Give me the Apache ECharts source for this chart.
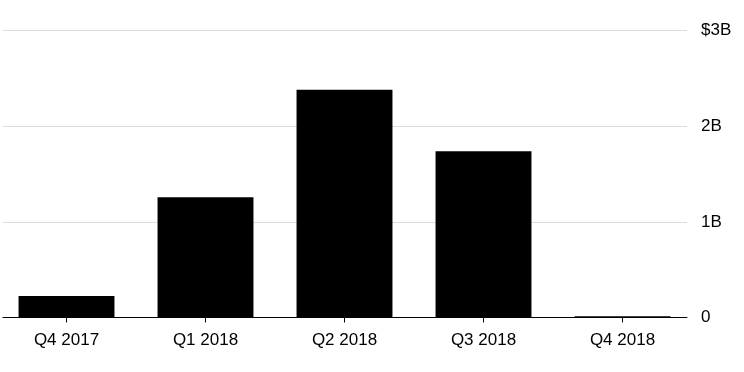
<!DOCTYPE html>
<html>
<head>
<meta charset="utf-8">
<script src="https://cdn.jsdelivr.net/npm/echarts@6/dist/echarts.min.js"></script>
<style>
html,body{margin:0;padding:0;background:#fff;}
#chart{width:744px;height:372px;}
</style>
</head>
<body>
<div id="chart"></div>
<script>
var categories = ['Q4 2017', 'Q1 2018', 'Q2 2018', 'Q3 2018', 'Q4 2018'];
var values = [0.225, 1.257, 2.383, 1.739, 0.012];
var yTickLabels = ['0', '1B', '2B', '$3B'];

var FONT = 'Liberation Sans';
var chart = echarts.init(document.getElementById('chart'));
chart.setOption({
  animation: false,
  backgroundColor: '#fff',
  grid: [
    {left: 3, right: 57, top: 30.7, bottom: 54.5, containLabel: false, outerBoundsMode: 'none'},
    {left: -3, right: 52, top: 30.7, bottom: 54.5, containLabel: false, outerBoundsMode: 'none'}
  ],
  xAxis: [
    {gridIndex: 0, type: 'value', min: 0, max: 1, show: true,
     axisLine: {show: true, onZero: false, lineStyle: {color: '#000', width: 1}},
     axisTick: {show: false}, axisLabel: {show: false}, splitLine: {show: false}},
    {gridIndex: 1, type: 'category', data: categories,
     axisLine: {show: false},
     axisTick: {show: true, alignWithLabel: true, length: 5, lineStyle: {color: '#000'}},
     axisLabel: {color: '#000', fontFamily: FONT, fontSize: 17, margin: 14}}
  ],
  yAxis: [
    {gridIndex: 0, type: 'value', position: 'right', min: 0, max: 3, interval: 1,
     axisLine: {show: false}, axisTick: {show: false},
     axisLabel: {color: '#000', fontFamily: FONT, fontSize: 17, margin: 14,
       formatter: function (v) { return yTickLabels[Math.round(v)]; }},
     splitLine: {show: true, lineStyle: {color: '#dcdcdc', width: 1}}},
    {gridIndex: 1, type: 'value', min: 0, max: 3, interval: 1, show: false}
  ],
  series: [{
    type: 'bar',
    xAxisIndex: 1, yAxisIndex: 1,
    data: values,
    barWidth: '69%',
    itemStyle: {color: '#000'}
  }]
});
</script>
</body>
</html>
